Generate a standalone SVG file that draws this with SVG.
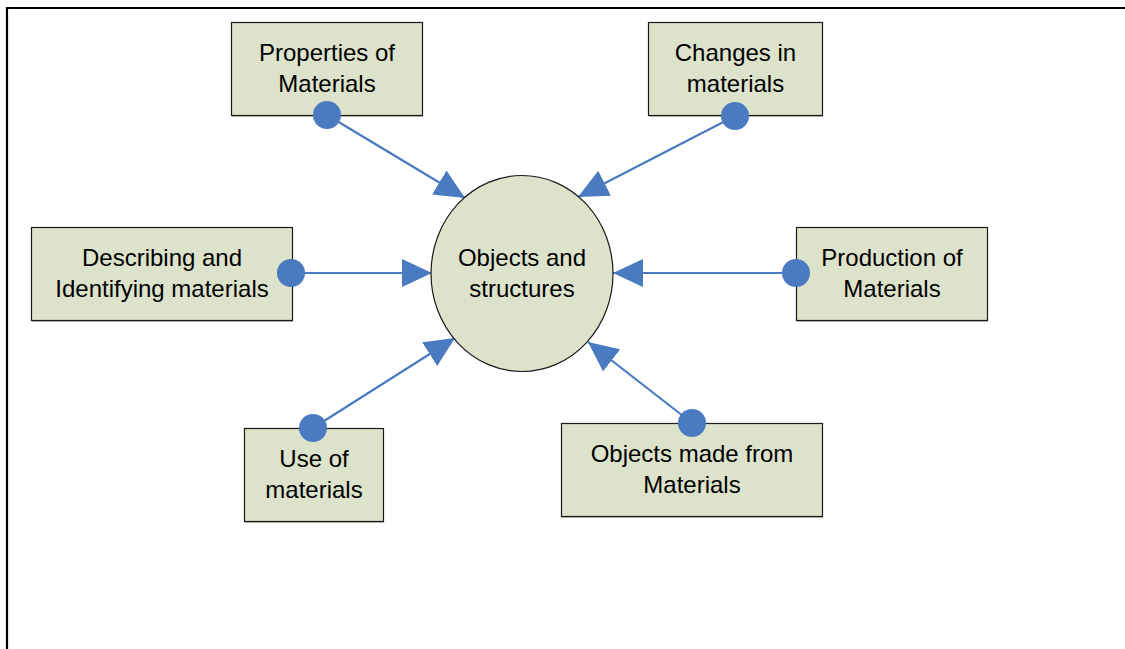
<svg xmlns="http://www.w3.org/2000/svg" width="1125" height="649" viewBox="0 0 1125 649">
<defs>
<style>
.box{fill:#dde2cb;stroke:#1a1a1a;stroke-width:1.2}
.sh{fill:#7a7a72}
.t{font-family:"Liberation Sans",Arial,sans-serif;font-size:24px;fill:#000;text-anchor:middle}
.dot{fill:#4a7abf}
.ln{stroke:#4a7abf;stroke-width:2.2;fill:none;marker-end:url(#ah)}
</style>
<marker id="ah" viewBox="0 0 30 28" refX="30" refY="14" markerWidth="30" markerHeight="28" markerUnits="userSpaceOnUse" orient="auto">
<path d="M0,0 L30,14 L0,28 Z" fill="#4a7abf"/>
</marker>
</defs>
<rect width="1125" height="649" fill="#fff"/>
<path d="M7,649 V8 H1125" fill="none" stroke="#000" stroke-width="2.2"/>
<g id="connectors">
<line class="ln" x1="327" y1="115" x2="465" y2="198"/>
<line class="ln" x1="735" y1="116" x2="578" y2="197"/>
<line class="ln" x1="291" y1="273" x2="432" y2="273"/>
<line class="ln" x1="796" y1="273" x2="613" y2="273"/>
<line class="ln" x1="313" y1="428" x2="455" y2="338"/>
<line class="ln" x1="692" y1="423" x2="588" y2="342"/>
</g>
<g id="center">
<ellipse cx="522" cy="273.5" rx="91" ry="98" fill="#dde2cb" stroke="#1a1a1a" stroke-width="1.2"/>
<text class="t" x="522" y="266">Objects and</text>
<text class="t" x="522" y="297">structures</text>
</g>
<g id="properties">
<rect class="sh" x="232" y="115" width="191" height="1.5"/>
<rect class="box" x="231.5" y="22.5" width="191" height="93"/>
<text class="t" x="327" y="61">Properties of</text>
<text class="t" x="327" y="92">Materials</text>
<circle class="dot" cx="327" cy="115" r="14"/>
</g>
<g id="changes">
<rect class="sh" x="649" y="115" width="174" height="1.5"/>
<rect class="box" x="648.5" y="22.5" width="174" height="93"/>
<text class="t" x="735.5" y="61">Changes in</text>
<text class="t" x="735.5" y="92">materials</text>
<circle class="dot" cx="735" cy="116" r="14"/>
</g>
<g id="describing">
<rect class="sh" x="32" y="320" width="261" height="1.5"/>
<rect class="box" x="31.5" y="227.5" width="261" height="93"/>
<text class="t" x="162" y="266">Describing and</text>
<text class="t" x="162" y="297">Identifying materials</text>
<circle class="dot" cx="291" cy="273" r="14"/>
</g>
<g id="production">
<rect class="sh" x="797" y="320" width="191" height="1.5"/>
<rect class="box" x="796.5" y="227.5" width="191" height="93"/>
<text class="t" x="892" y="266">Production of</text>
<text class="t" x="892" y="297">Materials</text>
<circle class="dot" cx="796" cy="273" r="14"/>
</g>
<g id="use">
<rect class="sh" x="245" y="521" width="139" height="1.5"/>
<rect class="box" x="244.5" y="428.5" width="139" height="93"/>
<text class="t" x="314" y="467">Use of</text>
<text class="t" x="314" y="498">materials</text>
<circle class="dot" cx="313" cy="428" r="14"/>
</g>
<g id="objects-made">
<rect class="sh" x="562" y="516" width="261" height="1.5"/>
<rect class="box" x="561.5" y="423.5" width="261" height="93"/>
<text class="t" x="692" y="462">Objects made from</text>
<text class="t" x="692" y="493">Materials</text>
<circle class="dot" cx="692" cy="423" r="14"/>
</g>
</svg>
